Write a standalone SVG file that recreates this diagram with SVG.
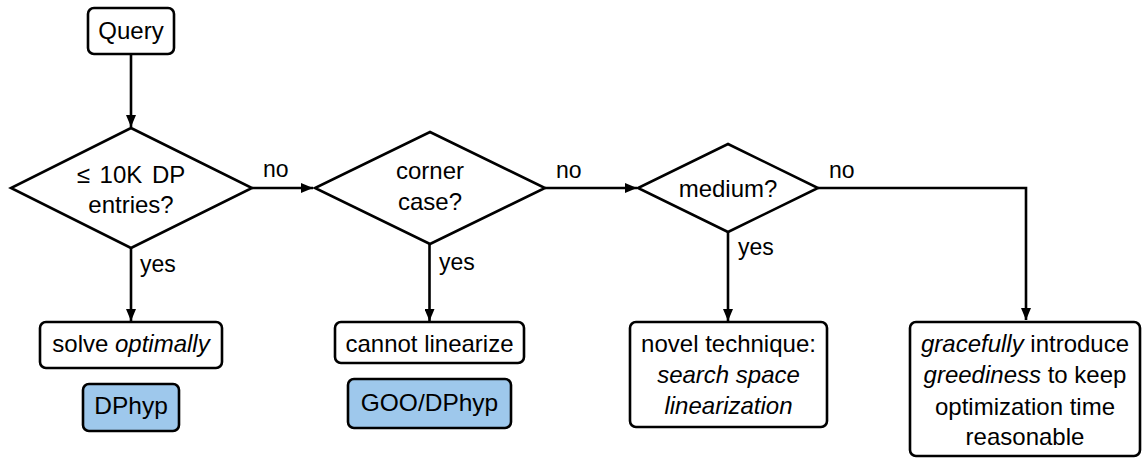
<svg xmlns="http://www.w3.org/2000/svg" width="1142" height="458" viewBox="0 0 1142 458">
<style>
text{font-family:"Liberation Sans",Arial,sans-serif;font-size:24px;fill:#000;text-anchor:middle}
.it{font-style:italic}
.big{font-size:24.5px}
.lbl{text-anchor:start;font-size:23px}
.box{fill:#fff;stroke:#000;stroke-width:2.6}
.blue{fill:#9ec8ec;stroke:#000;stroke-width:2.6}
.dia{fill:#fff;stroke:#000;stroke-width:2.6;stroke-linejoin:miter}
.edge{fill:none;stroke:#000;stroke-width:2.6}
</style>
<defs>
<marker id="arr" markerWidth="12" markerHeight="10" refX="12" refY="5" orient="auto" markerUnits="userSpaceOnUse">
<path d="M0,0 L12,5 L0,10 Z" fill="#000"/>
</marker>
</defs>
<g id="connectors">
<line class="edge" x1="131" y1="54" x2="131" y2="127" marker-end="url(#arr)"/>
<line class="edge" x1="252" y1="188" x2="313" y2="188" marker-end="url(#arr)"/>
<line class="edge" x1="545" y1="188" x2="637" y2="188" marker-end="url(#arr)"/>
<polyline class="edge" points="818,188 1026,188 1026,320" marker-end="url(#arr)"/>
<line class="edge" x1="131" y1="248" x2="131" y2="321" marker-end="url(#arr)"/>
<line class="edge" x1="429.5" y1="244" x2="429.5" y2="321" marker-end="url(#arr)"/>
<line class="edge" x1="728" y1="232" x2="728" y2="321" marker-end="url(#arr)"/>
<text class="lbl" x="263" y="177">no</text>
<text class="lbl" x="556" y="178">no</text>
<text class="lbl" x="829" y="178">no</text>
<text class="lbl" x="140" y="272">yes</text>
<text class="lbl" x="439" y="270">yes</text>
<text class="lbl" x="738" y="255">yes</text>
</g>
<g id="query">
<rect class="box" x="88" y="8" width="86" height="46" rx="6"/>
<text x="131" y="39">Query</text>
</g>
<g id="decision1">
<polygon class="dia" points="131,128 252,188 131,248 11,188"/>
<text x="131" y="183" word-spacing="3">≤ 10K DP</text>
<text x="131" y="213">entries?</text>
</g>
<g id="decision2">
<polygon class="dia" points="430,132 545,188 430,244 315,188"/>
<text x="430" y="179">corner</text>
<text x="430" y="210">case?</text>
</g>
<g id="decision3">
<polygon class="dia" points="728,144 818,188 728,232 638,188"/>
<text x="728" y="197">medium?</text>
</g>
<g id="solve">
<rect class="box" x="40" y="322" width="182" height="46" rx="6"/>
<text x="131" y="352">solve <tspan class="it">optimally</tspan></text>
</g>
<g id="dphyp">
<rect class="blue" x="83" y="384" width="96" height="47" rx="6"/>
<text class="big" x="131" y="414">DPhyp</text>
</g>
<g id="cannot">
<rect class="box" x="335" y="322" width="189" height="41" rx="6"/>
<text x="429.5" y="352">cannot linearize</text>
</g>
<g id="goodphyp">
<rect class="blue" x="348" y="379" width="163" height="49" rx="6"/>
<text class="big" x="429.5" y="411">GOO/DPhyp</text>
</g>
<g id="novel">
<rect class="box" x="630" y="322" width="197" height="105" rx="6"/>
<text x="728.5" y="352">novel technique:</text>
<text class="it" x="728.5" y="383">search space</text>
<text class="it" x="728.5" y="414">linearization</text>
</g>
<g id="graceful">
<rect class="box" x="910" y="322" width="230" height="134" rx="6"/>
<text x="1025" y="352"><tspan class="it">gracefully</tspan> introduce</text>
<text x="1025" y="383"><tspan class="it">greediness</tspan> to keep</text>
<text x="1025" y="415">optimization time</text>
<text x="1025" y="445">reasonable</text>
</g>
</svg>
